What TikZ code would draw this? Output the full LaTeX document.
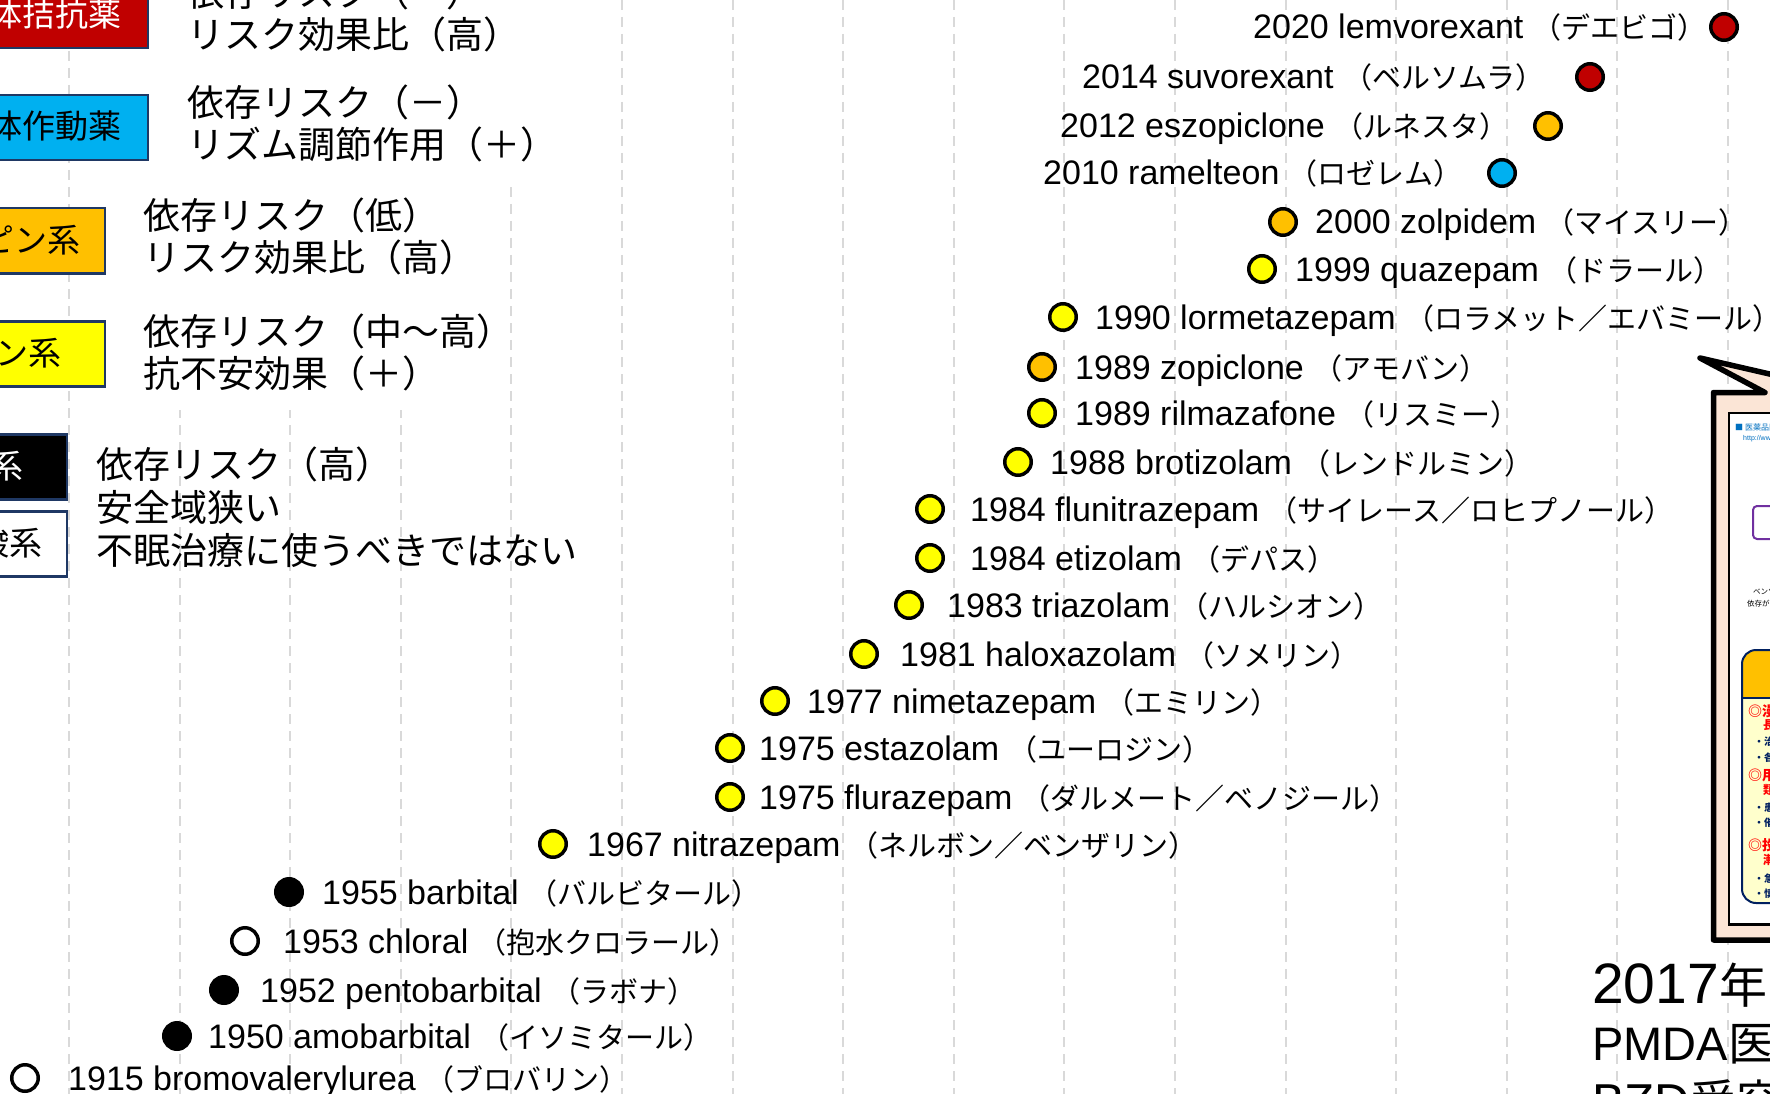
\documentclass[tikz,border=0pt]{standalone}
\usepackage{fontspec}
\setmainfont{Liberation Sans}
\newfontfamily\jp{Noto Sans CJK JP}

\definecolor{orexred}{HTML}{C00000}
\definecolor{melblue}{HTML}{00B0F0}
\definecolor{zdrug}{HTML}{FFC000}
\definecolor{bzd}{HTML}{FFFF00}
\definecolor{boxnavy}{HTML}{1F3864}
\definecolor{gridgray}{HTML}{D9D9D9}
\definecolor{peach}{HTML}{FBE5D6}
\definecolor{linkblue}{HTML}{0070C0}
\definecolor{notepurple}{HTML}{7030A0}
\definecolor{notecream}{HTML}{FFFFCC}
\definecolor{notenavy}{HTML}{002060}
\definecolor{alertred}{HTML}{FF0000}

\newcommand{\labsize}{\fontsize{34}{40}\selectfont}
\newcommand{\jlabsize}{\fontsize{29}{34}\selectfont}

\begin{document}
\begin{tikzpicture}[x=1pt,y=-1pt,
  gridln/.style={draw=gridgray, line width=2pt, dash pattern=on 10pt off 7pt},
  legbox/.style={draw=boxnavy, line width=2.5pt, inner sep=0pt,
                 minimum width=420pt, minimum height=65pt, anchor=north east},
  boxtxt/.style={font=\jp\fontsize{33}{38}\selectfont, inner sep=0pt, anchor=base east},
  legtxt/.style={font=\jp\fontsize{37}{42}\selectfont, inner sep=0pt, anchor=base west},
  drugdot/.style={circle, draw=black, line width=3.5pt, minimum size=26.5pt, inner sep=0pt},
  druglab/.style={font=\labsize, inner sep=0pt, anchor=base west},
  notetxt/.style={inner sep=0pt, anchor=base west},
  tinytxt/.style={inner sep=0pt, anchor=base west},
  redpt/.style={font=\jp\bfseries\fontsize{14}{16}\selectfont, text=alertred, inner sep=0pt, anchor=base west},
  redsub/.style={font=\jp\bfseries\fontsize{12}{14}\selectfont, text=alertred, inner sep=0pt, anchor=base west},
  navypt/.style={font=\jp\bfseries\fontsize{10}{12}\selectfont, text=notenavy, inner sep=0pt, anchor=base west}
]
\useasboundingbox (0,0) rectangle (1770,1094);
\clip (0,0) rectangle (1770,1094);
\fill[white] (0,0) rectangle (1770,1094);

% dashed year grid
\foreach \k in {0,...,15}
  \draw[gridln] ({69+110.6*\k},0) -- ({69+110.6*\k},1094);

% opaque text areas of the legend
\fill[white] (150,0) rectangle (565,187);
\fill[white] (125,187) rectangle (505,410);

% legend: drug classes
\node[legbox, fill=orexred] (bOrx) at (149,-18) {};
\node[boxtxt, text=white] (tOrx) at (122,27) {オレキシン受容体拮抗薬};
\node[legbox, fill=melblue] (bMel) at (149,94) {};
\node[boxtxt] (tMel) at (122,139) {メラトニン受容体作動薬};
\node[legbox, fill=zdrug] (bZ) at (106,207) {};
\node[boxtxt] (tZ) at (81,252) {非ベンゾジアゼピン系};
\node[legbox, fill=bzd] (bBzd) at (106,320) {};
\node[boxtxt] (tBzd) at (62,365) {ベンゾジアゼピン系};
\node[legbox, fill=black] (bBarb) at (68,433) {};
\node[boxtxt, text=white] (tBarb) at (24,478) {バルビツール酸系};
\node[legbox, fill=white] (bNon) at (68,510) {};
\node[boxtxt] (tNon) at (43,555) {非バルビツール酸系};

% legend: characteristics
\node[legtxt] (c1a) at (187,7) {依存リスク（－）};
\node[legtxt] (c1b) at (187,49) {リスク効果比（高）};
\node[legtxt] (c2a) at (187,117) {依存リスク（－）};
\node[legtxt] (c2b) at (187,159) {リズム調節作用（＋）};
\node[legtxt] (c3a) at (143,230) {依存リスク（低）};
\node[legtxt] (c3b) at (143,272) {リスク効果比（高）};
\node[legtxt] (c4a) at (143,345) {依存リスク（中〜高）};
\node[legtxt] (c4b) at (143,387) {抗不安効果（＋）};
\node[legtxt] (c5a) at (96,478) {依存リスク（高）};
\node[legtxt] (c5b) at (96,521) {安全域狭い};
\node[legtxt] (c5c) at (96,564) {不眠治療に使うべきではない};

% timeline of hypnotics
\foreach \dx/\dy/\dcol/\lx/\la/\jpn [count=\i] in {
  1724/27/orexred/1253/2020 lemvorexant/（デエビゴ）,
  1590/77/orexred/1082/2014 suvorexant/（ベルソムラ）,
  1548/126/zdrug/1060/2012 eszopiclone/（ルネスタ）,
  1502/173/melblue/1043/2010 ramelteon/（ロゼレム）,
  1283/222/zdrug/1315/2000 zolpidem/（マイスリー）,
  1262/269/bzd/1295/1999 quazepam/（ドラール）,
  1063/317/bzd/1095/1990 lormetazepam/（ロラメット／エバミール）,
  1042/367/zdrug/1075/1989 zopiclone/（アモバン）,
  1042/413/bzd/1075/1989 rilmazafone/（リスミー）,
  1018/462/bzd/1050/1988 brotizolam/（レンドルミン）,
  930/509/bzd/970/1984 flunitrazepam/（サイレース／ロヒプノール）,
  930/558/bzd/970/1984 etizolam/（デパス）,
  909/605/bzd/947/1983 triazolam/（ハルシオン）,
  864/654/bzd/900/1981 haloxazolam/（ソメリン）,
  775/701/bzd/807/1977 nimetazepam/（エミリン）,
  730/748/bzd/759/1975 estazolam/（ユーロジン）,
  730/797/bzd/759/1975 flurazepam/（ダルメート／ベノジール）,
  553/844/bzd/587/1967 nitrazepam/（ネルボン／ベンザリン）,
  289/892/black/322/1955 barbital/（バルビタール）,
  245/941/white/283/1953 chloral/（抱水クロラール）,
  224/990/black/260/1952 pentobarbital/（ラボナ）,
  177/1036/black/208/1950 amobarbital/（イソミタール）,
  25/1078/white/68/1915 bromovalerylurea/（ブロバリン）}
{
  \node[drugdot, fill=\dcol] (d\i) at (\dx,\dy) {};
  \node[druglab] (l\i) at (\lx,\dy+12) {\la\ {\jp\jlabsize\jpn}};
}

% callout with the PMDA notice
\path[draw=black, line width=5.5pt, fill=peach, line join=round]
  (1713.5,392.5) -- (1765,392.5) -- (1700,358) -- (1800,381)
  -- (1800,940) -- (1713.5,940) -- cycle;
\draw[black, line width=2.3pt, fill=white] (1729,413) rectangle (1800,924.5);

\node[tinytxt, font=\jp\fontsize{8}{9}\selectfont, text=linkblue] (docHead) at (1735,430) {■ 医薬品医療機器総合機構};
\node[tinytxt, font=\fontsize{7}{8}\selectfont, text=linkblue] (docUrl) at (1743,440) {http://www.pmda.go.jp/};
\draw[notepurple, line width=2pt, rounded corners=4pt] (1753,506) rectangle (1800,539);
\node[tinytxt, font=\jp\fontsize{7.5}{8}\selectfont] (docCapA) at (1753,594) {ベンゾジアゼピン受容体作動薬の};
\node[tinytxt, font=\jp\fontsize{7.5}{8}\selectfont] (docCapB) at (1747,606) {依存があることを};

\fill[notecream, rounded corners=14pt] (1742,650) rectangle (1830,903);
\begin{scope}
  \clip (1735,640) rectangle (1830,698);
  \fill[zdrug, rounded corners=14pt] (1742,650) rectangle (1830,903);
\end{scope}
\draw[notenavy, line width=1.5pt] (1742,698) -- (1830,698);
\draw[notenavy, line width=2pt, rounded corners=14pt] (1742,650) rectangle (1830,903);

\node[redpt] (p1) at (1748,716) {◎漫然とした継続投与による};
\node[redsub] (p1b) at (1763,729) {長期使用を避ける};
\node[navypt] (p1x) at (1754,745) {・治療上の必要性を検討};
\node[navypt] (p1y) at (1754,761) {・各患者の状態を観察};
\node[redpt] (p2) at (1748,780) {◎用量を遵守し};
\node[redsub] (p2b) at (1763,794) {類似薬の重複処方がないか確認};
\node[navypt] (p2x) at (1754,811) {・患者の状態に応じ};
\node[navypt] (p2y) at (1754,826) {・催眠鎮静薬等との併用};
\node[redpt] (p3) at (1748,850) {◎投与中止時は};
\node[redsub] (p3b) at (1763,864) {漸減等により慎重に減薬};
\node[navypt] (p3x) at (1754,882) {・急な中止で離脱症状};
\node[navypt] (p3y) at (1754,897) {・慎重に減量する};

% note under the callout
\node[notetxt, font=\fontsize{57}{62}\selectfont] (noteA) at (1592,1003) {2017{\jp\fontsize{48}{52}\selectfont 年}};
\node[notetxt, font=\fontsize{47}{52}\selectfont] (noteB) at (1592,1060) {PMDA{\jp\fontsize{46}{50}\selectfont 医薬品適正使用のお願い}};
\node[notetxt, font=\fontsize{49}{54}\selectfont] (noteC) at (1592,1118) {BZD{\jp\fontsize{46}{50}\selectfont 受容体作動薬の依存性}};
\end{tikzpicture}
\end{document}
